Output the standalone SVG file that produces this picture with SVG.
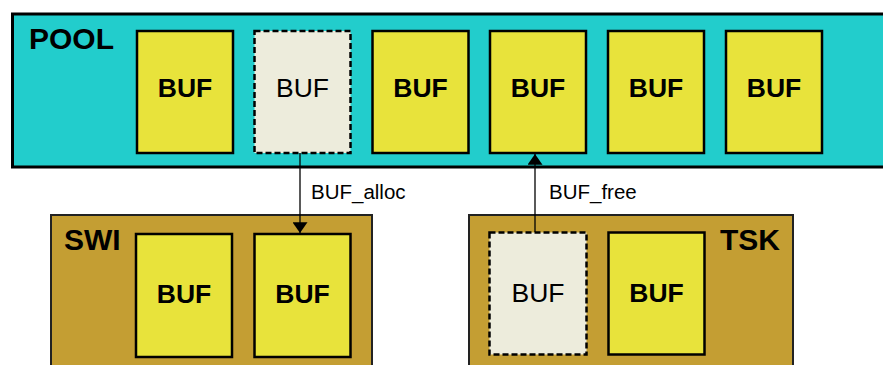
<svg xmlns="http://www.w3.org/2000/svg" width="883" height="365" viewBox="0 0 883 365">
  <style>
    .pool { fill: #22cdcc; stroke: #000; stroke-width: 3; }
    .owner { fill: #c49e33; stroke: #222; stroke-width: 2; }
    .buf { fill: #e8e33b; stroke: #000; stroke-width: 2.5; }
    .free { fill: #edecdc; stroke: #000; stroke-width: 2.5; stroke-dasharray: 6 3; }
    .title { font-family: "Liberation Sans", Arial, sans-serif; font-weight: bold; font-size: 30px; fill: #000; }
    .lbl { font-family: "Liberation Sans", Arial, sans-serif; font-weight: bold; font-size: 26.5px; fill: #000; text-anchor: middle; }
    .lbl.plain { font-weight: normal; }
    .op { font-family: "Liberation Sans", Arial, sans-serif; font-size: 20.5px; fill: #000; }
    .conn { stroke: #000; stroke-width: 1.3; fill: none; }
  </style>
  <defs>
    <marker id="head" viewBox="0 0 10 14" refX="10" refY="7" markerWidth="11" markerHeight="15" markerUnits="userSpaceOnUse" orient="auto">
      <path d="M0,0 L10,7 L0,14 Z" fill="#000"/>
    </marker>
  </defs>

  <rect width="883" height="365" fill="#fff"/>

  <!-- buffer pool -->
  <g id="pool">
    <rect class="pool" x="12.5" y="14" width="880" height="153"/>
    <text class="title" x="29" y="49">POOL</text>
  </g>
  <g id="pool-buf1"><rect class="buf" x="137" y="31" width="96" height="122"/><text class="lbl" x="185" y="97">BUF</text></g>
  <g id="pool-buf2"><rect class="free" x="254.5" y="31" width="96" height="122"/><text class="lbl plain" x="302.5" y="97">BUF</text></g>
  <g id="pool-buf3"><rect class="buf" x="372.5" y="31" width="96" height="122"/><text class="lbl" x="420.5" y="97">BUF</text></g>
  <g id="pool-buf4"><rect class="buf" x="490" y="31" width="96" height="122"/><text class="lbl" x="538" y="97">BUF</text></g>
  <g id="pool-buf5"><rect class="buf" x="608" y="31" width="96" height="122"/><text class="lbl" x="656" y="97">BUF</text></g>
  <g id="pool-buf6"><rect class="buf" x="726" y="31" width="96" height="122"/><text class="lbl" x="774" y="97">BUF</text></g>

  <!-- software interrupt owner -->
  <g id="swi">
    <rect class="owner" x="51" y="215" width="321" height="160"/>
    <text class="title" x="64" y="250">SWI</text>
  </g>
  <g id="swi-buf1"><rect class="buf" x="136" y="234" width="96" height="123"/><text class="lbl" x="184" y="303">BUF</text></g>
  <g id="swi-buf2"><rect class="buf" x="254.5" y="234" width="96" height="123"/><text class="lbl" x="302.5" y="303">BUF</text></g>

  <!-- task owner -->
  <g id="tsk">
    <rect class="owner" x="469" y="215" width="324" height="160"/>
    <text class="title" x="780" y="250" text-anchor="end">TSK</text>
  </g>
  <g id="tsk-buf1"><rect class="free" x="489.5" y="232.5" width="97" height="122"/><text class="lbl plain" x="538" y="302">BUF</text></g>
  <g id="tsk-buf2"><rect class="buf" x="608.5" y="232.5" width="96" height="122"/><text class="lbl" x="656.5" y="302">BUF</text></g>

  <!-- connectors -->
  <g id="connectors">
    <line class="conn" x1="300" y1="153" x2="300" y2="233" marker-end="url(#head)"/>
    <text class="op" x="311" y="199">BUF_alloc</text>
    <line class="conn" x1="535" y1="232" x2="535" y2="154" marker-end="url(#head)"/>
    <text class="op" x="549" y="199">BUF_free</text>
  </g>
</svg>
